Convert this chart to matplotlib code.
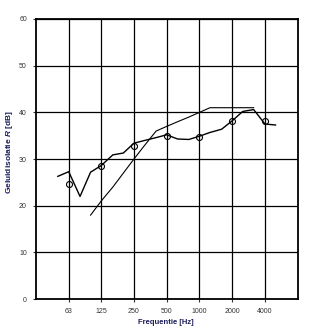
import numpy as np
import matplotlib
matplotlib.use("Agg")
from matplotlib import pyplot as plt
from matplotlib.ticker import FixedLocator, NullLocator

plt.rcParams['font.family'] = ['Liberation Sans', 'DejaVu Sans']
plt.rcParams['mathtext.fontset'] = 'custom'
plt.rcParams['mathtext.bfit'] = 'Liberation Sans:italic:bold'
plt.rcParams['mathtext.bf'] = 'Liberation Sans:bold'
plt.rcParams['mathtext.rm'] = 'Liberation Sans'

# third-octave measurement
freq_third = [50, 63, 80, 100, 125, 160, 200, 250, 315, 400, 500, 630,
              800, 1000, 1250, 1600, 2000, 2500, 3150, 4000, 5000]
r_third = [26.3, 27.3, 22.0, 27.2, 28.6, 30.9, 31.3, 33.4, 34.0, 34.6, 35.2, 34.3,
           34.2, 34.9, 35.7, 36.4, 38.2, 40.2, 40.6, 37.5, 37.3]

# octave band values
freq_oct = [63, 125, 250, 500, 1000, 2000, 4000]
r_oct = [24.6, 28.6, 32.7, 35.0, 34.8, 38.2, 38.2]

# shifted reference curve (Rw = 37 dB)
freq_ref = [100, 125, 160, 200, 250, 315, 400, 500, 630, 800, 1000,
            1250, 1600, 2000, 2500, 3150]
r_ref = [18, 21, 24, 27, 30, 33, 36, 37, 38, 39, 40, 41, 41, 41, 41, 41]

tick_labels = ['63', '125', '250', '500', '1000', '2000', '4000']
label_color = '#1c1c5a'

fig = plt.figure(figsize=(3.24, 3.27), dpi=100)
ax = fig.add_axes([0.111, 0.085, 0.808, 0.857])

ax.plot(freq_third, r_third, color='black', lw=1.0, zorder=3)
ax.plot(freq_ref, r_ref, color='black', lw=0.8, zorder=3)
ax.plot(freq_oct, r_oct, 'o', mfc='none', mec='black', ms=4.3, mew=0.8, zorder=4)

ax.set_xscale('log', base=2)
ax.set_xlim(31.5, 8000)
ax.set_ylim(0, 60)
ax.xaxis.set_major_locator(FixedLocator(freq_oct))
ax.xaxis.set_minor_locator(NullLocator())
ax.set_xticklabels(tick_labels)
ax.set_yticks(np.arange(0, 61, 10))

ax.grid(True, color='black', lw=0.9)
ax.set_axisbelow(True)
for s in ax.spines.values():
    s.set_linewidth(1.3)

ax.tick_params(axis='both', labelsize=5, colors='#333333', length=2.5, width=0.8, pad=4)

# axis titles placed in figure pixels
fig.text(166 / 324, 1 - 322 / 327, 'Frequentie [Hz]', fontsize=5.5, fontweight='bold',
         color=label_color, ha='center', va='center')
fig.text(10 / 324, 1 - 152 / 327, 'Geluidisolatie $\\mathbfit{R}$ [dB]', fontsize=6,
         fontweight='bold', color=label_color, ha='center', va='center', rotation=90)

fig.savefig('out.png', dpi=100)
